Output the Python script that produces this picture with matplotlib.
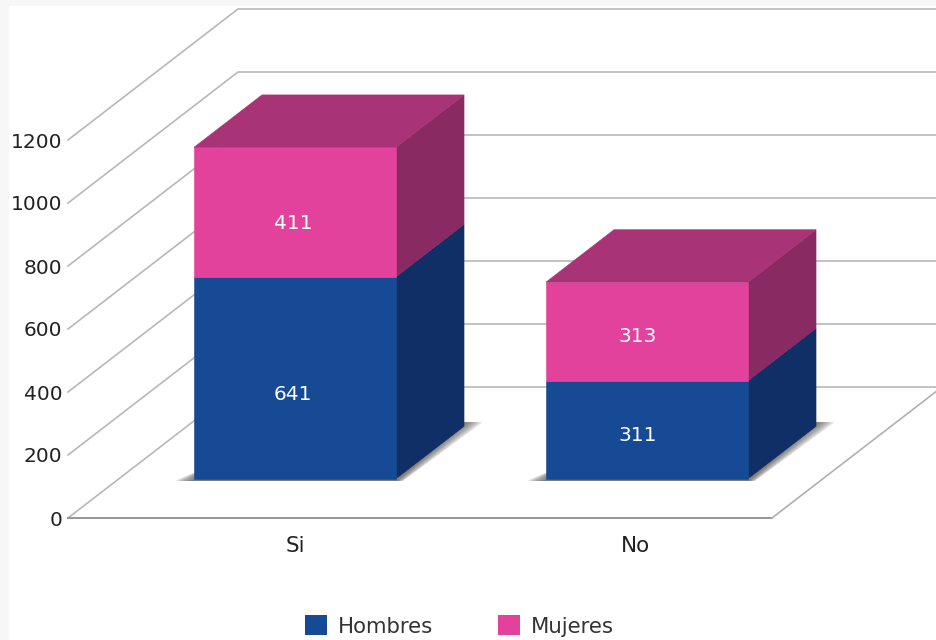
import numpy as np
import matplotlib.pyplot as plt
from matplotlib.patches import Patch, Rectangle

categorias = ['Si', 'No']
hombres = [641, 311]
mujeres = [411, 313]
ticks_y = [0, 200, 400, 600, 800, 1000, 1200]

# face colours: front, top, side
azul = ('#174a94', '#123a76', '#0f2f66')
rosa = ('#e2429b', '#a83377', '#8a2a62')

# oblique projection, in data units per unit of depth
DX = 170 / 352
DY = 131 / 0.315
ANCHO = 0.574
PROF_INI, PROF_FIN = 0.3, 0.7


def proy(x, v, d):
    return x + d * DX, v + d * DY


def cara(ax, puntos, color, z):
    xs, ys = zip(*[proy(*p) for p in puntos])
    ax.fill(xs, ys, color=color, lw=0.4, clip_on=False, zorder=z)


fig = plt.figure(figsize=(9.36, 6.4), dpi=100, facecolor='#f7f7f7')
fig.patches.append(Rectangle((9 / 936, 0), 1, 634 / 640, transform=fig.transFigure,
                             facecolor='white', edgecolor='none', zorder=-1))

ax = fig.add_axes([68 / 936, 122 / 640, 704 / 936, 378 / 640])
ax.patch.set_visible(False)
ax.set_xlim(-0.5, 1.5)
ax.set_ylim(0, 1200)
for s in ax.spines.values():
    s.set_visible(False)

# walls and floor
for t in ticks_y:
    xs, ys = zip(proy(-0.5, t, 0), proy(-0.5, t, 1), proy(1.5, t, 1))
    ax.plot(xs, ys, color='#b8b8b8', lw=1.2, clip_on=False, zorder=1)
xs, ys = zip(proy(-0.5, 0, 0), proy(1.5, 0, 0))
ax.plot(xs, ys, color='#8e8e8e', lw=1.3, clip_on=False, zorder=2)
xs, ys = zip(proy(1.5, 0, 0), proy(1.5, 0, 1))
ax.plot(xs, ys, color='#b0b0b0', lw=1.2, clip_on=False, zorder=2)

x = np.arange(len(categorias))
for i in x:
    izq, der = i - ANCHO / 2, i + ANCHO / 2

    # soft shadow round the footprint
    for g in np.linspace(0.05, 0.006, 8):
        pts = [(izq - g, -6, PROF_INI), (der + g * 0.4, -6, PROF_INI),
               (der + g, 12, PROF_FIN), (der - 0.1, 12, PROF_FIN), (izq, 0, PROF_INI + 0.1)]
        cara(ax, pts, (0.3, 0.3, 0.3, 0.13), 3)

    base = 0
    for valor, col in ((hombres[i], azul), (mujeres[i], rosa)):
        tope = base + valor
        cara(ax, [(der, base, PROF_INI), (der, base, PROF_FIN), (der, tope, PROF_FIN), (der, tope, PROF_INI)], col[2], 4)
        cara(ax, [(izq, base, PROF_INI), (der, base, PROF_INI), (der, tope, PROF_INI), (izq, tope, PROF_INI)], col[0], 5)
        base = tope
    cara(ax, [(izq, base, PROF_INI), (der, base, PROF_INI), (der, base, PROF_FIN), (izq, base, PROF_FIN)], rosa[1], 5)

# value labels are not centred in the reference, so nudge them
ajuste = [-0.006, -0.027]
baja_h = [-52, -17]
baja_m = [-35, -17]
for i in x:
    xt, yt = proy(i + ajuste[i], hombres[i] / 2 + baja_h[i], PROF_INI)
    ax.text(xt, yt, str(hombres[i]), color='white', fontsize=14.5, ha='center', va='center', zorder=6)
    xt, yt = proy(i + ajuste[i], hombres[i] + mujeres[i] / 2 + baja_m[i], PROF_INI)
    ax.text(xt, yt, str(mujeres[i]), color='white', fontsize=14.5, ha='center', va='center', zorder=6)

ax.set_yticks(ticks_y)
ax.set_yticklabels([str(t) for t in ticks_y], fontsize=14.5, color='#222222')
ax.set_xticks(x + PROF_INI * DX + np.array([0.0, -0.032]))
ax.set_xticklabels(categorias, fontsize=15.5, color='#222222')
ax.tick_params(axis='y', length=0, pad=4)
ax.tick_params(axis='x', length=0, pad=13)

fig.legend(handles=[Patch(facecolor=azul[0], label='Hombres'), Patch(facecolor=rosa[0], label='Mujeres')],
           ncol=2, frameon=False, fontsize=15.3, loc='center', bbox_to_anchor=(459 / 936, 14 / 640),
           handlelength=1.05, handleheight=1.05, handletextpad=0.5, columnspacing=3.05,
           labelcolor='#333333', borderpad=0)

fig.savefig('out.png', dpi=100, facecolor=fig.get_facecolor())
